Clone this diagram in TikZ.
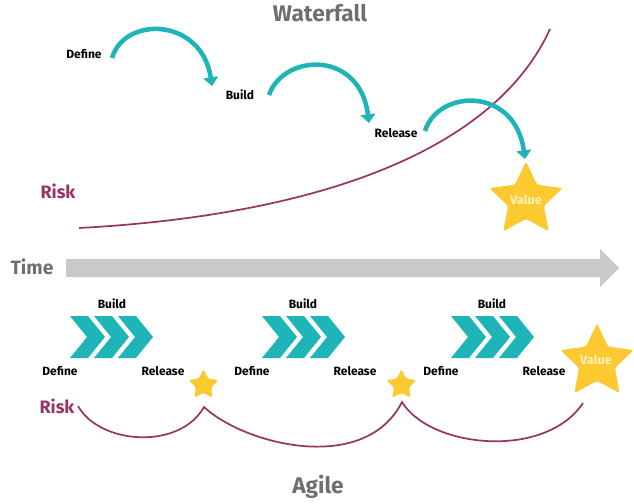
\documentclass[tikz,border=0pt]{standalone}
\usepackage{fontspec}
\setmainfont{Fira Sans}
\usetikzlibrary{arrows.meta,shapes.geometric}
\definecolor{tealc}{HTML}{1FB4B7}
\definecolor{riskc}{HTML}{983564}
\definecolor{greyc}{HTML}{6E7070}
\definecolor{timec}{HTML}{C8C9C9}
\definecolor{starc}{HTML}{FCC931}
\definecolor{valc}{HTML}{FFF3BC}

\begin{document}
\begin{tikzpicture}[x=0.75pt,y=-0.75pt,font=\bfseries\fontsize{9}{10}\selectfont,
  lbl/.style={inner sep=0pt},
  head/.style={inner sep=0pt,text=greyc,font=\bfseries\fontsize{17}{19}\selectfont},
  risklbl/.style={inner sep=0pt,text=riskc,font=\bfseries\fontsize{13.5}{15}\selectfont},
  flow/.style={draw=tealc,line width=3.4pt,-{Triangle[width=11pt,length=6.5pt]}},
  riskline/.style={draw=riskc,line width=1.3pt},
  starbox/.style={star,star points=5,star point ratio=2.05,fill=starc,inner sep=0pt,rounded corners=2pt},
  vlbl/.style={inner sep=0pt,text=valc,font=\bfseries\fontsize{9.5}{11}\selectfont},
  chev/.pic={\fill[tealc] (0,0) -- (18,0) -- (35,21) -- (18,42) -- (0,42) -- (17,21) -- cycle;}]
\useasboundingbox (0,0) rectangle (634,503);

% waterfall
\node[head] (wtitle) at (320,13) {Waterfall};
\node[lbl] (wdefine) at (84,54) {Define};
\node[lbl] (wbuild) at (240,95) {Build};
\node[lbl] (wrelease) at (396,133) {Release};
\node[risklbl] (wrisk) at (58,191) {Risk};
\node[starbox,minimum size=58pt] (wstar) at (526,200) {};
\node[vlbl] (wvalue) at (526,200) {Value};
\coordinate (w1s) at (112,58); \coordinate (w1e) at (212,86);
\coordinate (w2s) at (269,95); \coordinate (w2e) at (369,123);
\coordinate (w3s) at (425,131); \coordinate (w3e) at (525,159);
\draw[riskline] (79,228) .. controls (320,215) and (495,150) .. (550,29);
\draw[flow] (w1s) .. controls (125,15) and (202,18) .. (w1e);
\draw[flow] (w2s) .. controls (284,53) and (360,50) .. (w2e);
\draw[flow] (w3s) .. controls (438,89) and (515,86) .. (w3e);

% time
\node[head,font=\bfseries\fontsize{14.5}{16}\selectfont] (time) at (32,267) {Time};
\fill[timec] (66,259) -- (600,259) -- (600,249) -- (619,268) -- (600,287) -- (600,277) -- (66,277) -- cycle;

% agile
\foreach \x in {70,94,118,262,286,310,451,475,499}
  \pic at (\x,316) {chev};
\node[lbl] (abuild1) at (112,304) {Build};
\node[lbl] (abuild2) at (303,304) {Build};
\node[lbl] (abuild3) at (492,304) {Build};
\node[lbl] (adefine1) at (60,371) {Define};
\node[lbl] (adefine2) at (252,371) {Define};
\node[lbl] (adefine3) at (441,371) {Define};
\node[lbl] (arelease1) at (163,371) {Release};
\node[lbl] (arelease2) at (355,371) {Release};
\node[lbl] (arelease3) at (544,371) {Release};
\node[starbox,minimum size=24pt] (astar1) at (203.5,385) {};
\node[starbox,minimum size=24pt] (astar2) at (401.5,385) {};
\node[starbox,minimum size=58pt] (astar3) at (597,362) {};
\node[vlbl] (avalue) at (596,360) {Value};
\node[risklbl] (arisk) at (57,406) {Risk};
\draw[riskline] (78,406) .. controls (100,445) and (180,450) .. (204,407)
  .. controls (245,445) and (365,475) .. (402,402)
  .. controls (430,448) and (545,460) .. (583,403);
\node[head] (atitle) at (318,487) {Agile};
\end{tikzpicture}
\end{document}
